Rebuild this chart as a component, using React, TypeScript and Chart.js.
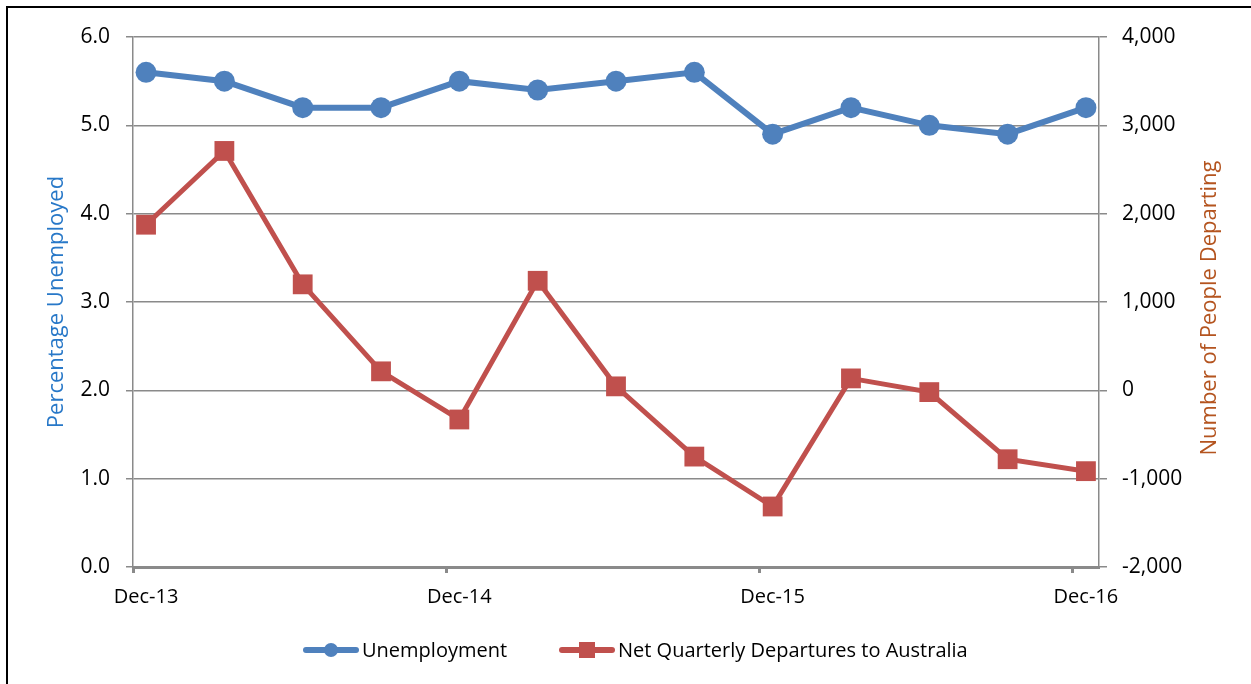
import React, { useEffect, useRef } from "react";
import { Chart, registerables } from "chart.js";

Chart.register(...registerables);

// Quarterly observations, Dec-13 .. Dec-16
const quarters = [
  "Dec-13", "Mar-14", "Jun-14", "Sep-14", "Dec-14", "Mar-15", "Jun-15",
  "Sep-15", "Dec-15", "Mar-16", "Jun-16", "Sep-16", "Dec-16",
];
const unemployment = [5.6, 5.5, 5.2, 5.2, 5.5, 5.4, 5.5, 5.6, 4.9, 5.2, 5.0, 4.9, 5.2];
const departures = [1875, 2710, 1200, 215, -330, 1240, 45, -750, -1315, 135, -20, -780, -915];

const xTickLabels = ["Dec-13", "Dec-14", "Dec-15", "Dec-16"];
const leftTicks = [0, 1, 2, 3, 4, 5, 6];
const rightTicks = [-2000, -1000, 0, 1000, 2000, 3000, 4000];

const seriesNames = ["Unemployment", "Net Quarterly Departures to Australia"];
const leftTitle = "Percentage Unemployed";
const rightTitle = "Number of People Departing";

const BLUE = "#4F81BD";
const RED = "#C0504D";
const GRID = "#8a8a8a";
const FONT = '"Open Sans", "DejaVu Sans", sans-serif';

// month offset of each quarter on a monthly date axis (points sit mid-month)
const monthOf = (i: number) => i * 3 + 0.5;

const decor = {
  id: "decor",
  beforeDraw(chart: any) {
    const ctx = chart.ctx;
    ctx.save();
    ctx.fillStyle = "#fff";
    ctx.fillRect(0, 0, chart.width, chart.height);
    ctx.strokeStyle = "#000";
    ctx.lineWidth = 2;
    ctx.beginPath();
    ctx.moveTo(7, chart.height + 5);
    ctx.lineTo(7, 7);
    ctx.lineTo(chart.width + 5, 7);
    ctx.stroke();
    ctx.restore();
  },
  afterDraw(chart: any) {
    const ctx = chart.ctx;
    const { top, bottom } = chart.chartArea;
    const midY = (top + bottom) / 2;
    ctx.save();
    ctx.font = `22px ${FONT}`;
    ctx.textAlign = "center";
    ctx.textBaseline = "middle";
    // left title
    ctx.save();
    ctx.translate(57, midY);
    ctx.rotate(-Math.PI / 2);
    ctx.fillStyle = "#2878C8";
    ctx.fillText(leftTitle, 0, 0);
    ctx.restore();
    // right title (reads bottom to top)
    ctx.save();
    ctx.translate(1210, midY + 6);
    ctx.rotate(-Math.PI / 2);
    ctx.fillStyle = "#B4541F";
    ctx.fillText(rightTitle, 0, 0);
    ctx.restore();

    // legend
    const ly = 650;
    ctx.font = `20px ${FONT}`;
    ctx.textAlign = "left";
    ctx.fillStyle = "#000";
    const items = [
      { name: seriesNames[0], color: BLUE, shape: "circle", x: 303 },
      { name: seriesNames[1], color: RED, shape: "rect", x: 559 },
    ];
    for (const it of items) {
      const len = 56;
      ctx.strokeStyle = it.color;
      ctx.lineWidth = 6;
      ctx.lineCap = "round";
      ctx.beginPath();
      ctx.moveTo(it.x + 3, ly);
      ctx.lineTo(it.x + len - 3, ly);
      ctx.stroke();
      ctx.fillStyle = it.color;
      const cx = it.x + len / 2;
      if (it.shape === "circle") {
        ctx.beginPath();
        ctx.arc(cx, ly, 7, 0, Math.PI * 2);
        ctx.fill();
      } else {
        ctx.fillRect(cx - 8, ly - 8, 16, 16);
      }
      ctx.fillStyle = "#000";
      ctx.fillText(it.name, it.x + len + 3, ly + 1);
    }
    ctx.restore();
  },
};

export default function App() {
  const ref = useRef<HTMLCanvasElement>(null);
  useEffect(() => {
    if (!ref.current) return;
    const chart = new Chart(ref.current, {
      type: "line",
      data: {
        datasets: [
          {
            label: seriesNames[0],
            data: unemployment.map((v, i) => ({ x: monthOf(i), y: v })),
            yAxisID: "y",
            borderColor: BLUE,
            backgroundColor: BLUE,
            borderWidth: 6,
            pointRadius: 10.5,
            pointStyle: "circle",
            pointBorderWidth: 0,
            tension: 0,
          },
          {
            label: seriesNames[1],
            data: departures.map((v, i) => ({ x: monthOf(i), y: v })),
            yAxisID: "y2",
            borderColor: RED,
            backgroundColor: RED,
            borderWidth: 5,
            pointRadius: 14,
            pointStyle: "rect",
            pointBorderWidth: 0,
            tension: 0,
          },
        ],
      },
      options: {
        responsive: false,
        animation: false,
        layout: { padding: { top: 37, left: 0, right: 0, bottom: 0 } },
        plugins: { legend: { display: false }, tooltip: { enabled: false } },
        scales: {
          x: {
            type: "linear",
            min: 0,
            max: 37,
            afterFit: (s: any) => { s.height = 117; },
            afterBuildTicks: (s: any) => {
              s.ticks = xTickLabels.map((_, i) => ({ value: i * 12 }));
            },
            ticks: {
              autoSkip: false,
              maxRotation: 0,
              padding: 12,
              labelOffset: 13,
              color: "#000",
              font: { family: FONT, size: 20 },
              callback: (_v: any, i: number) => xTickLabels[i],
            },
            grid: {
              drawOnChartArea: false,
              drawTicks: true,
              tickLength: 6,
              tickWidth: 3,
              tickColor: GRID,
            },
            border: { display: true, color: GRID, width: 3 },
          },
          y: {
            position: "left",
            min: 0,
            max: 6,
            afterFit: (s: any) => { s.width = 133; },
            afterBuildTicks: (s: any) => {
              s.ticks = leftTicks.map((v) => ({ value: v }));
            },
            ticks: {
              padding: 16,
              color: "#000",
              font: { family: FONT, size: 21 },
              callback: (v: any) => Number(v).toFixed(1),
            },
            grid: {
              color: GRID,
              lineWidth: 1.5,
              tickLength: 7,
              tickColor: GRID,
            },
            border: { display: true, color: GRID, width: 1.5 },
          },
          y2: {
            position: "right",
            min: -2000,
            max: 4000,
            afterFit: (s: any) => { s.width = 152; },
            afterBuildTicks: (s: any) => {
              s.ticks = rightTicks.map((v) => ({ value: v }));
            },
            ticks: {
              padding: 15,
              color: "#000",
              font: { family: FONT, size: 21 },
              callback: (v: any) => Number(v).toLocaleString("en-US"),
            },
            grid: {
              drawOnChartArea: false,
              tickLength: 8,
              tickColor: GRID,
              lineWidth: 1.5,
            },
            border: { display: true, color: GRID, width: 1.5 },
          },
        },
      },
      plugins: [decor],
    } as any);
    return () => chart.destroy();
  }, []);

  return (
    <div style={{ position: "absolute", left: 0, top: 0, width: 1251, height: 684, overflow: "hidden" }}>
      <canvas ref={ref} width={1251} height={684} style={{ width: 1251, height: 684, display: "block" }} />
    </div>
  );
}
